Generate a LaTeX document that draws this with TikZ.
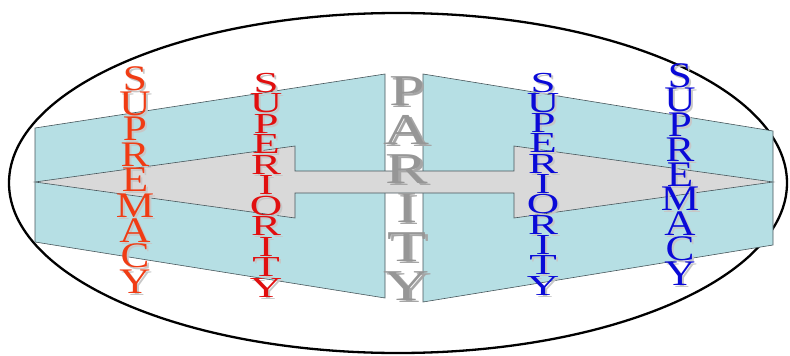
\documentclass[tikz,border=0pt]{standalone}
\usepackage{graphicx}
\usepackage{fontspec}
\setmainfont{Liberation Serif}
\usepackage{tikz}
\usetikzlibrary{calc}
\definecolor{wingfill}{RGB}{182,223,228}
\definecolor{barfill}{RGB}{217,217,217}
\definecolor{edgegray}{RGB}{70,85,90}
\definecolor{supred}{RGB}{240,60,20}
\definecolor{supdeep}{RGB}{225,15,15}
\definecolor{supblue}{RGB}{10,10,215}
\definecolor{paritygray}{RGB}{150,150,150}
\newcommand{\bigword}[1]{\fontsize{36}{36}\selectfont\scalebox{1.2}[1]{#1}}
\newcommand{\midword}[1]{\fontsize{29}{29}\selectfont\scalebox{1.55}[1]{#1}}
\newcommand{\midline}[1]{\fontsize{44}{44}\selectfont\scalebox{1.45}[1]{#1}}
\tikzset{
  wing/.style={fill=wingfill, draw=edgegray, line width=0.6pt},
  bar/.style={fill=barfill, draw=edgegray, line width=0.6pt},
  letter/.style={inner sep=0pt, anchor=base},
  shade/.style={letter, text=black!22},
}

\begin{document}
\begin{tikzpicture}[x=1pt, y=-1pt]
  \useasboundingbox (0,0) rectangle (790,356);
  \draw[line width=2.3pt] (398,183) ellipse [x radius=389pt, y radius=170pt];

  % the two wings
  \draw[wing] (35,128) -- (385,74) -- (385,298) -- (35,242) -- cycle;
  \draw[wing] (423,74) -- (773,131) -- (773,245) -- (423,302) -- cycle;

  % double arrow across the middle
  \draw[bar] (35,182) -- (295,146) -- (295,171) -- (514,171) -- (514,146)
    -- (773,182) -- (514,218) -- (514,193) -- (295,193) -- (295,218) -- cycle;

  % left side
  \foreach \ch [count=\i from 0] in {S,U,P,R,E,M,A,C,Y} {
    \node[shade] at (137,92+25.4*\i) {\bigword{\ch}};
    \node[letter, text=supred] (SUPL\i) at (135,90+25.4*\i) {\bigword{\ch}};
  }
  \foreach \ch [count=\i from 0] in {S,U,P,E,R,I,O,R,I,T,Y} {
    \node[shade] at (268,94+20.5*\i) {\midword{\ch}};
    \node[letter, text=supdeep] (SUPERL\i) at (266,92+20.5*\i) {\midword{\ch}};
  }

  % middle
  \foreach \ch [count=\i from 0] in {P,A,R,I,T,Y} {
    \node[shade, text=black!35] at (409.5,107.5+39*\i) {\midline{\ch}};
    \node[letter, text=paritygray] (PAR\i) at (407,105+39*\i) {\midline{\ch}};
  }

  % right side
  \foreach \ch [count=\i from 0] in {S,U,P,E,R,I,O,R,I,T,Y} {
    \node[shade] at (545,94+20.3*\i) {\midword{\ch}};
    \node[letter, text=supblue] (SUPERR\i) at (543,92+20.3*\i) {\midword{\ch}};
  }
  \foreach \ch [count=\i from 0] in {S,U,P,R,E,M,A,C,Y} {
    \node[shade] at (682,89+24.75*\i) {\bigword{\ch}};
    \node[letter, text=supblue] (SUPR\i) at (680,87+24.75*\i) {\bigword{\ch}};
  }
\end{tikzpicture}
\end{document}
